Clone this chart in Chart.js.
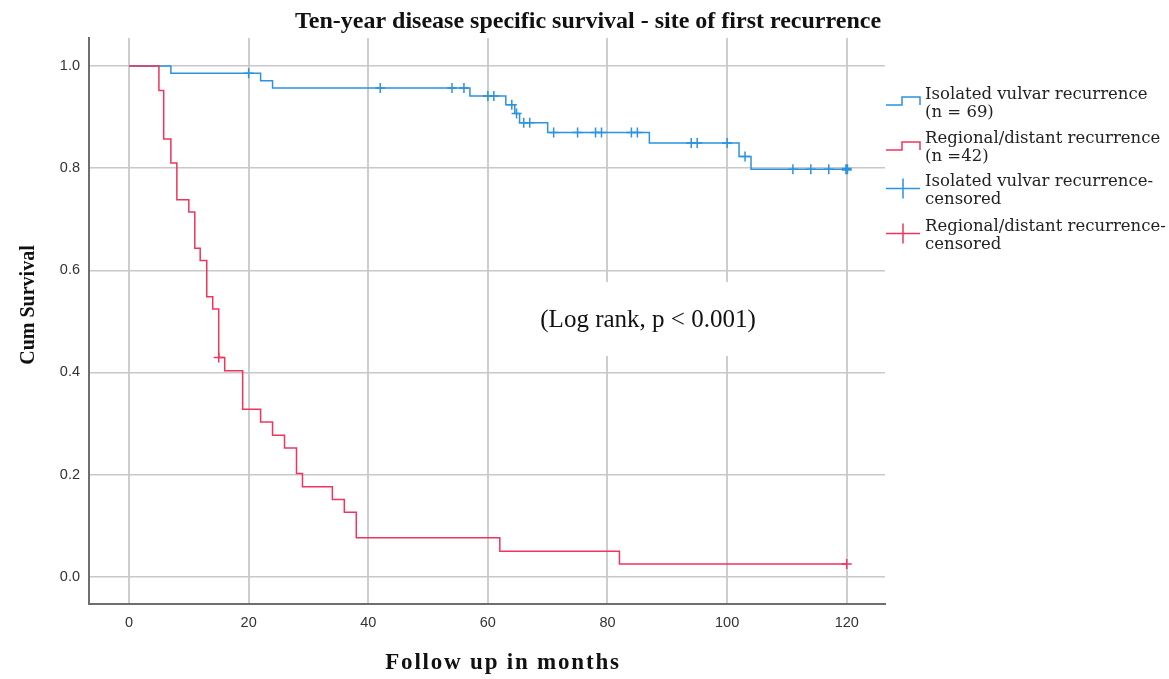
<!DOCTYPE html>
<html>
<head>
<meta charset="utf-8">
<script src="https://cdn.jsdelivr.net/npm/chart.js@4.4.1/dist/chart.umd.min.js"></script>
<style>
  html, body { margin: 0; padding: 0; background: #fff; }
</style>
</head>
<body>
<canvas id="km" width="1169" height="679"></canvas>
<script>
// Kaplan-Meier steps: month of the event, cumulative survival after it
var vulvarTimes = [0, 7, 22, 24, 57, 63, 64.5, 65.3, 70, 87, 102, 104, 120];
var vulvarSurv = [1, 0.986, 0.971, 0.957, 0.941, 0.924, 0.907, 0.889, 0.870, 0.849, 0.823, 0.798, 0.798];
var vulvarCensTimes = [20, 42, 54, 56, 60, 61, 64, 64.8, 66, 67, 71, 75, 78, 79, 84, 85, 94, 95, 100, 103, 111, 114, 117, 120];
var vulvarCensSurv = [0.986, 0.957, 0.957, 0.957, 0.941, 0.941, 0.924, 0.907, 0.889, 0.889, 0.870, 0.870, 0.870, 0.870, 0.870, 0.870, 0.849, 0.849, 0.849, 0.823, 0.798, 0.798, 0.798, 0.798];

var regionalTimes = [0, 5, 5.8, 7, 8, 10, 11, 11.9, 13, 14, 15, 16, 19, 22, 24, 26, 28, 29, 34, 36, 38, 62, 82, 120];
var regionalSurv = [1, 0.952, 0.857, 0.810, 0.738, 0.714, 0.643, 0.619, 0.548, 0.524, 0.429, 0.403, 0.328, 0.303, 0.277, 0.252, 0.202, 0.176, 0.151, 0.126, 0.076, 0.050, 0.025, 0.025];
var regionalCensTimes = [15, 120];
var regionalCensSurv = [0.429, 0.025];

var xTicks = [0, 20, 40, 60, 80, 100, 120];
var yTicks = [0, 0.2, 0.4, 0.6, 0.8, 1.0];
var yTickLabels = ['0.0', '0.2', '0.4', '0.6', '0.8', '1.0'];

var titleText = 'Ten-year disease specific survival - site of first recurrence';
var xTitle = 'Follow up in months';
var yTitle = 'Cum Survival';
var noteText = '(Log rank, p < 0.001)';
var legendLabels = [
  ['Isolated vulvar recurrence', '(n = 69)'],
  ['Regional/distant recurrence', '(n =42)'],
  ['Isolated vulvar recurrence-', 'censored'],
  ['Regional/distant recurrence-', 'censored']
];

var BLUE = '#2b93e0';
var RED = '#f0345c';

function pts(xs, ys) {
  return xs.map(function (x, i) { return { x: x, y: ys[i] }; });
}

var decorations = {
  id: 'decorations',
  beforeDatasetsDraw: function (chart) {
    var ctx = chart.ctx;
    ctx.save();
    ctx.fillStyle = '#fff';
    ctx.fillRect(520, 282, 250, 74);   // box behind the log-rank note
    ctx.restore();
  },
  afterDraw: function (chart) {
    var ctx = chart.ctx;
    ctx.save();
    ctx.fillStyle = '#111';
    ctx.textBaseline = 'middle';

    ctx.textAlign = 'center';
    ctx.font = 'bold 24px "Liberation Serif"';
    ctx.fillText(titleText, 588, 22);

    ctx.font = 'bold 20px "Liberation Serif"';
    ctx.save();
    ctx.translate(29, 305);
    ctx.rotate(-Math.PI / 2);
    ctx.fillText(yTitle, 0, 0);
    ctx.restore();

    ctx.font = 'bold 23px "Liberation Serif"';
    ctx.letterSpacing = '1.8px';
    ctx.fillText(xTitle, 503, 663);
    ctx.letterSpacing = '0px';

    ctx.font = '25px "Liberation Serif"';
    ctx.fillText(noteText, 648, 320);

    // legend
    ctx.textAlign = 'left';
    ctx.font = '16.5px "DejaVu Serif"';
    ctx.fillStyle = '#222';
    var rows = [95, 138.5, 182, 226.5];
    rows.forEach(function (y, i) {
      ctx.fillText(legendLabels[i][0], 925, y);
      ctx.fillText(legendLabels[i][1], 925, y + 18);
    });
    ctx.lineWidth = 1.5;
    [[BLUE, 105, 97], [RED, 150, 142]].forEach(function (s) {
      ctx.strokeStyle = s[0];
      ctx.beginPath();
      ctx.moveTo(886, s[1]);
      ctx.lineTo(902, s[1]);
      ctx.lineTo(902, s[2]);
      ctx.lineTo(920, s[2]);
      ctx.lineTo(920, s[1]);
      ctx.stroke();
    });
    [[BLUE, 188.5], [RED, 233.5]].forEach(function (s) {
      ctx.strokeStyle = s[0];
      ctx.beginPath();
      ctx.moveTo(886, s[1]);
      ctx.lineTo(920, s[1]);
      ctx.moveTo(903, s[1] - 10);
      ctx.lineTo(903, s[1] + 10);
      ctx.stroke();
    });
    ctx.restore();
  }
};

var tickFont = { family: '"Liberation Sans", Arial, sans-serif', size: 14.5 };

var chart = new Chart(document.getElementById('km'), {
  type: 'line',
  plugins: [decorations],
  data: {
    datasets: [
      {
        data: pts(vulvarTimes, vulvarSurv),
        borderColor: BLUE,
        borderWidth: 1.5,
        stepped: true,
        pointRadius: 0,
        fill: false,
        order: 2
      },
      {
        data: pts(regionalTimes, regionalSurv),
        borderColor: RED,
        borderWidth: 1.5,
        stepped: true,
        pointRadius: 0,
        fill: false,
        order: 1
      },
      {
        data: pts(vulvarCensTimes, vulvarCensSurv),
        showLine: false,
        pointStyle: 'cross',
        pointRadius: 5,
        pointBorderWidth: function (c) { return c.raw && c.raw.x === 120 ? 3 : 1.5; },
        pointBorderColor: BLUE,
        order: 0
      },
      {
        data: pts(regionalCensTimes, regionalCensSurv),
        showLine: false,
        pointStyle: 'cross',
        pointRadius: 5,
        pointBorderWidth: 1.5,
        pointBorderColor: RED,
        order: 0
      }
    ]
  },
  options: {
    responsive: false,
    animation: false,
    layout: {
      padding: { top: 38, right: 284, left: 0, bottom: 0 }
    },
    plugins: {
      legend: { display: false },
      tooltip: { enabled: false }
    },
    scales: {
      x: {
        type: 'linear',
        min: -6.69,
        max: 126.4,
        afterFit: function (s) { s.height = 75; },
        afterBuildTicks: function (s) {
          s.ticks = xTicks.map(function (v) { return { value: v }; });
        },
        grid: { color: '#cdcdcd', lineWidth: 2, drawTicks: false },
        border: { color: '#6e6e6e', width: 2 },
        ticks: { padding: 10, color: '#333', font: tickFont }
      },
      y: {
        type: 'linear',
        min: -0.0535,
        max: 1.0548,
        afterFit: function (s) { s.width = 89; },
        afterBuildTicks: function (s) {
          s.ticks = yTicks.map(function (v) { return { value: v }; });
        },
        grid: { color: '#c8c8c8', lineWidth: 1.5, drawTicks: false },
        border: { color: '#6e6e6e', width: 2 },
        ticks: {
          padding: 9,
          color: '#333',
          font: tickFont,
          callback: function (value, index) { return yTickLabels[index]; }
        }
      }
    }
  }
});
</script>
</body>
</html>
